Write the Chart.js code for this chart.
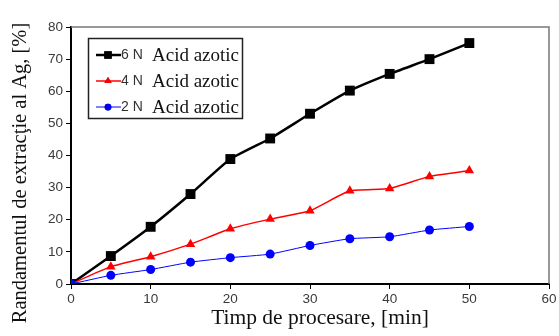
<!DOCTYPE html>
<html>
<head>
<meta charset="utf-8">
<script src="https://cdn.jsdelivr.net/npm/chart.js@4"></script>
<style>
  html, body { margin: 0; padding: 0; background: #fff; }
  #wrap { width: 559px; height: 336px; }
</style>
</head>
<body>
<div id="wrap"><canvas id="grafic"></canvas></div>
<script>
// timpul de procesare [min] si randamentul de extractie [%]
const timp = [0, 5, 10, 15, 20, 25, 30, 35, 40, 45, 50];
const acid6N = [0, 8.7, 17.8, 28.0, 38.9, 45.3, 53.0, 60.2, 65.4, 70.0, 75.0];
const acid4N = [0, 5.4, 8.5, 12.4, 17.2, 20.2, 22.8, 29.0, 29.7, 33.5, 35.3];
const acid2N = [0, 2.7, 4.5, 6.8, 8.2, 9.3, 12.0, 14.1, 14.7, 16.8, 17.9];
const concentratii = ['6 N', '4 N', '2 N'];
const numeAcid = 'Acid azotic';
const titluY = 'Randamentul de extracţie al Ag, [%]';
const titluX = 'Timp de procesare, [min]';

const serif = '"Liberation Serif", "Times New Roman", serif';
const sans = '"Liberation Sans", Arial, sans-serif';

const puncte = vals => timp.map((t, i) => ({ x: t, y: vals[i] }));

function serie(idx, vals, color, stil, raza, grosime, ordine) {
  return {
    label: concentratii[idx] + ' ' + numeAcid,
    data: puncte(vals),
    borderColor: color,
    backgroundColor: color,
    pointStyle: stil,
    pointRadius: raza,
    pointHoverRadius: raza,
    borderWidth: grosime,
    pointBorderWidth: 0,
    showLine: true,
    tension: 0.15,
    order: ordine
  };
}

// chenar gri sus/dreapta, titlurile axelor si legenda cu doua fonturi
const cadru = {
  id: 'cadru',
  beforeDatasetsDraw(chart) {
    const { ctx, chartArea: a } = chart;
    ctx.save();
    ctx.strokeStyle = '#777';
    ctx.lineWidth = 1.5;
    ctx.beginPath();
    ctx.moveTo(a.left, a.top);
    ctx.lineTo(a.right, a.top);
    ctx.lineTo(a.right, a.bottom);
    ctx.stroke();
    ctx.restore();
  },
  afterDraw(chart) {
    const ctx = chart.ctx;
    ctx.save();
    ctx.fillStyle = '#111';
    ctx.textAlign = 'center';
    ctx.textBaseline = 'alphabetic';
    ctx.font = '21.5px ' + serif;
    ctx.fillText(titluX, 320, 324);
    ctx.translate(26, 173);
    ctx.rotate(-Math.PI / 2);
    ctx.font = '20.5px ' + serif;
    ctx.fillText(titluY, 0, 0);
    ctx.restore();

    ctx.save();
    ctx.strokeStyle = '#222';
    ctx.lineWidth = 1.5;
    ctx.strokeRect(88.5, 38.5, 154, 80);
    const rows = [55, 81, 107];
    chart.data.datasets.forEach((ds, i) => {
      const y = rows[i];
      ctx.strokeStyle = ds.borderColor;
      ctx.lineWidth = ds.borderWidth;
      ctx.beginPath();
      ctx.moveTo(96, y);
      ctx.lineTo(121, y);
      ctx.stroke();
      Chart.helpers.drawPoint(ctx, {
        pointStyle: ds.pointStyle,
        radius: ds.pointRadius * 0.75,
        borderWidth: 0,
        rotation: 0
      }, 108, y);
      ctx.fillStyle = ds.borderColor;
      ctx.fill();
      ctx.fillStyle = '#333';
      ctx.textBaseline = 'middle';
      ctx.font = '14px ' + sans;
      ctx.fillText(concentratii[i], 121, y);
      ctx.fillStyle = '#111';
      ctx.font = '19px ' + serif;
      ctx.fillText(numeAcid, 152, y + 1);
    });
    ctx.restore();
  }
};

new Chart(document.getElementById('grafic'), {
  type: 'scatter',
  data: {
    datasets: [
      serie(0, acid6N, '#000000', 'rect', 7, 2.5, 3),
      serie(1, acid4N, '#ff0000', 'triangle', 5.5, 1.5, 2),
      serie(2, acid2N, '#0000ff', 'circle', 4.5, 1, 1)
    ]
  },
  options: {
    responsive: true,
    maintainAspectRatio: false,
    animation: false,
    layout: { padding: { top: 27, right: 10, left: 0, bottom: 0 } },
    plugins: { legend: { display: false }, tooltip: { enabled: false } },
    scales: {
      x: {
        type: 'linear',
        min: 0, max: 60,
        ticks: { stepSize: 10, color: '#3a3a3a', font: { family: sans, size: 13.5 }, padding: 2 },
        grid: { drawOnChartArea: false, drawTicks: true, tickLength: 5, color: '#000' },
        border: { display: true, color: '#000', width: 2 },
        title: { display: false },
        afterFit(s) { s.height = 52; }
      },
      y: {
        min: 0, max: 80,
        ticks: { stepSize: 10, color: '#3a3a3a', font: { family: sans, size: 13.5 }, padding: 3 },
        grid: { drawOnChartArea: false, drawTicks: true, tickLength: 5, color: '#000' },
        border: { display: true, color: '#000', width: 2 },
        title: { display: false },
        afterFit(s) { s.width = 71; }
      }
    }
  },
  plugins: [cadru]
});
</script>
</body>
</html>
